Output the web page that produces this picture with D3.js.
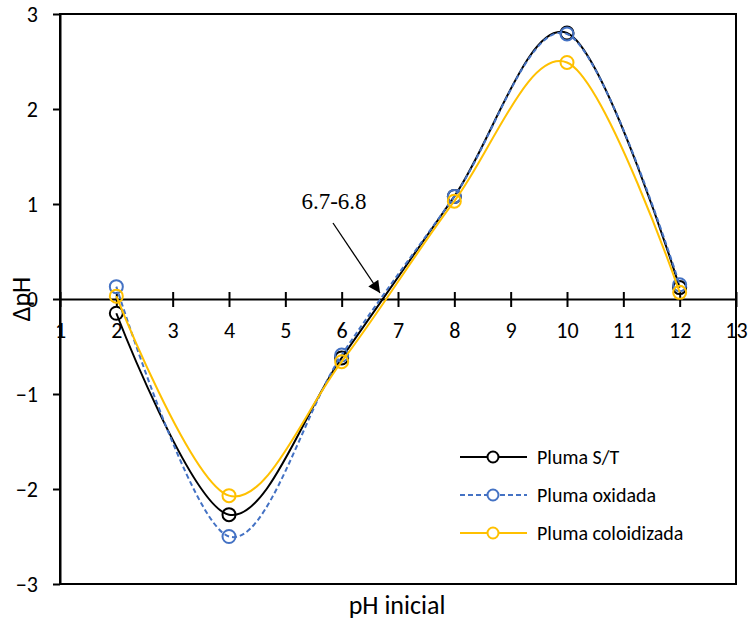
<!DOCTYPE html>
<html>
<head>
<meta charset="utf-8">
<script src="https://cdn.jsdelivr.net/npm/d3@7"></script>
<style>
  body { margin: 0; background: #fff; }
  text { font-family: Carlito, "Liberation Sans", sans-serif; }
</style>
</head>
<body>
<svg id="chart" width="748" height="621"></svg>
<script>
// valeurs
var phInicial = [2, 4, 6, 8, 10, 12];
var plumaST = [-0.15, -2.27, -0.62, 1.08, 2.8, 0.12];
var plumaOxidada = [0.13, -2.5, -0.59, 1.08, 2.79, 0.15];
var plumaColoidizada = [0.03, -2.07, -0.66, 1.03, 2.49, 0.07];
var xTicks = [1, 2, 3, 4, 5, 6, 7, 8, 9, 10, 11, 12, 13];
var yTicks = [-3, -2, -1, 0, 1, 2, 3];

var series = [
  { name: "Pluma S/T", values: plumaST, color: "#000000", dash: null },
  { name: "Pluma oxidada", values: plumaOxidada, color: "#4472C4", dash: "5,3" },
  { name: "Pluma coloidizada", values: plumaColoidizada, color: "#FFC000", dash: null }
];

var svg = d3.select("#chart");

var x = d3.scaleLinear().domain([1, 13]).range([60, 736]);
var y = d3.scaleLinear().domain([-3, 3]).range([584, 14]);

// cadre
svg.append("rect")
  .attr("x", x(1)).attr("y", y(3))
  .attr("width", x(13) - x(1)).attr("height", y(-3) - y(3))
  .attr("fill", "none").attr("stroke", "#000").attr("stroke-width", 2);

// axe y
var yAxis = svg.append("g")
  .attr("transform", `translate(${x(1)},0)`)
  .call(d3.axisLeft(y).tickValues(yTicks).tickSize(7).tickSizeOuter(0).tickFormat(d3.format("d")));
yAxis.select(".domain").attr("stroke-width", 2);
yAxis.selectAll(".tick line").attr("stroke-width", 2);
yAxis.selectAll(".tick text").attr("font-size", 22).attr("x", -22)
  .attr("font-family", "Carlito, 'Liberation Sans', sans-serif");

// axe x au niveau de 0
var xAxis = svg.append("g")
  .attr("transform", `translate(0,${y(0)})`)
  .call(d3.axisBottom(x).tickValues(xTicks).tickSize(0).tickSizeOuter(0));
xAxis.select(".domain").attr("stroke-width", 2);
xAxis.selectAll(".tick line").attr("y1", -7).attr("y2", 8).attr("stroke-width", 2);
xAxis.selectAll(".tick text").attr("font-size", 22).attr("y", 32).attr("dy", "0.32em")
  .attr("font-family", "Carlito, 'Liberation Sans', sans-serif");

// titres des axes
svg.append("text")
  .attr("transform", `translate(30,${y(0)}) rotate(-90)`)
  .attr("text-anchor", "middle")
  .attr("font-size", 26)
  .text("ΔpH");

svg.append("text")
  .attr("x", 397).attr("y", 614)
  .attr("text-anchor", "middle")
  .attr("font-size", 26)
  .text("pH inicial");

// courbes lissées façon Excel
var line = d3.line()
  .x((d, i) => x(phInicial[i]))
  .y(d => y(d))
  .curve(d3.curveCardinal.tension(0));

series.forEach(s => {
  svg.append("path")
    .datum(s.values)
    .attr("d", line)
    .attr("fill", "none")
    .attr("stroke", s.color)
    .attr("stroke-width", 2)
    .attr("stroke-dasharray", s.dash);

  svg.append("g")
    .selectAll("circle")
    .data(s.values)
    .join("circle")
    .attr("cx", (d, i) => x(phInicial[i]))
    .attr("cy", d => y(d))
    .attr("r", 6.5)
    .attr("fill", "none")
    .attr("stroke", s.color)
    .attr("stroke-width", 2);
});

// annotation
svg.append("defs").append("marker")
  .attr("id", "head")
  .attr("viewBox", "0 0 10 10")
  .attr("refX", 10).attr("refY", 5)
  .attr("markerWidth", 14).attr("markerHeight", 12)
  .attr("markerUnits", "userSpaceOnUse")
  .attr("orient", "auto")
  .append("path")
  .attr("d", "M0,0 L10,5 L0,10 Z")
  .attr("fill", "#000");

svg.append("line")
  .attr("x1", 333).attr("y1", 223)
  .attr("x2", 380).attr("y2", 293)
  .attr("stroke", "#000").attr("stroke-width", 1.3)
  .attr("marker-end", "url(#head)");

svg.append("text")
  .attr("x", 334).attr("y", 209)
  .attr("text-anchor", "middle")
  .attr("font-size", 23)
  .style("font-family", "'Liberation Serif', 'Times New Roman', serif")
  .text("6.7-6.8");

// légende
var legend = svg.append("g");
series.forEach((s, i) => {
  var ly = 457 + i * 38;
  legend.append("line")
    .attr("x1", 460).attr("x2", 527)
    .attr("y1", ly).attr("y2", ly)
    .attr("stroke", s.color).attr("stroke-width", 2)
    .attr("stroke-dasharray", s.dash);
  legend.append("circle")
    .attr("cx", 493).attr("cy", ly).attr("r", 5.5)
    .attr("fill", "#fff").attr("stroke", s.color).attr("stroke-width", 2);
  legend.append("text")
    .attr("x", 537).attr("y", ly).attr("dy", "0.35em")
    .attr("font-size", 20)
    .text(s.name);
});
</script>
</body>
</html>
